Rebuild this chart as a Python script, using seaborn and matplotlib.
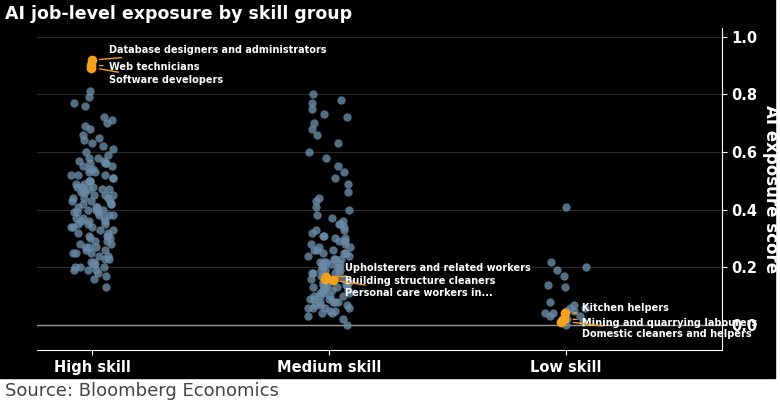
import numpy as np
import pandas as pd
import matplotlib
matplotlib.use("Agg")
import matplotlib.pyplot as plt
import seaborn as sns

groups = ["High skill", "Medium skill", "Low skill"]

high_vals = [0.81, 0.79, 0.77, 0.76, 0.72, 0.71, 0.70, 0.69, 0.68, 0.66, 0.65, 0.64, 0.63, 0.62,
             0.61, 0.60, 0.59, 0.58, 0.58, 0.57, 0.57, 0.56, 0.56, 0.55, 0.55, 0.54, 0.54, 0.53,
             0.53, 0.52, 0.52, 0.51, 0.51, 0.50, 0.50, 0.50, 0.49, 0.49, 0.48, 0.48, 0.47, 0.47,
             0.47, 0.46, 0.46, 0.45, 0.45, 0.45, 0.44, 0.44, 0.43, 0.43, 0.43, 0.42, 0.42, 0.41,
             0.41, 0.41, 0.40, 0.40, 0.40, 0.39, 0.39, 0.38, 0.38, 0.38, 0.37, 0.37, 0.36, 0.36,
             0.36, 0.35, 0.35, 0.34, 0.34, 0.33, 0.33, 0.32, 0.32, 0.31, 0.31, 0.30, 0.30, 0.29,
             0.29, 0.28, 0.28, 0.27, 0.27, 0.26, 0.26, 0.25, 0.25, 0.24, 0.24, 0.23, 0.23, 0.22,
             0.22, 0.21, 0.21, 0.20, 0.20, 0.20, 0.19, 0.19, 0.19, 0.18, 0.17, 0.16, 0.13,
             0.56, 0.52, 0.48, 0.44, 0.40, 0.37, 0.34, 0.31, 0.27, 0.25, 0.46, 0.42, 0.39, 0.35]
medium_vals = [0.80, 0.78, 0.77, 0.75, 0.73, 0.72, 0.70, 0.68, 0.66, 0.63, 0.60, 0.58, 0.55,
               0.53, 0.51, 0.49, 0.46, 0.44, 0.43, 0.41, 0.40, 0.38, 0.37, 0.36, 0.35, 0.35,
               0.34, 0.33, 0.33, 0.32, 0.31, 0.31, 0.30, 0.30, 0.29, 0.29, 0.28, 0.28, 0.27,
               0.27, 0.26, 0.26, 0.25, 0.25, 0.25, 0.24, 0.24, 0.23, 0.23, 0.23, 0.22, 0.22,
               0.21, 0.21, 0.21, 0.20, 0.20, 0.20, 0.19, 0.19, 0.19, 0.18, 0.18, 0.18, 0.17,
               0.17, 0.17, 0.16, 0.16, 0.15, 0.15, 0.15, 0.14, 0.14, 0.14, 0.13, 0.13, 0.13,
               0.12, 0.12, 0.12, 0.11, 0.11, 0.11, 0.10, 0.10, 0.10, 0.09, 0.09, 0.09, 0.08,
               0.08, 0.08, 0.07, 0.07, 0.07, 0.06, 0.06, 0.06, 0.05, 0.05, 0.04, 0.04, 0.03,
               0.02, 0.00, 0.22, 0.18, 0.14, 0.10, 0.06, 0.26, 0.12, 0.08]
low_vals = [0.41, 0.22, 0.20, 0.19, 0.17, 0.14, 0.13, 0.07, 0.06, 0.06, 0.05, 0.05, 0.04,
            0.04, 0.03, 0.03, 0.02, 0.02, 0.01, 0.00, 0.08]

hl_groups = ["High skill"] * 3 + ["Medium skill"] * 3 + ["Low skill"] * 3
hl_vals = [0.92, 0.90, 0.89, 0.165, 0.16, 0.155, 0.04, 0.02, 0.01]
hl_labels = ["Database designers and administrators", "Web technicians", "Software developers",
             "Upholsterers and related workers", "Building structure cleaners",
             "Personal care workers in...",
             "Kitchen helpers", "Mining and quarrying labourers", "Domestic cleaners and helpers"]

df = pd.DataFrame({
    "group": ["High skill"] * len(high_vals) + ["Medium skill"] * len(medium_vals) + ["Low skill"] * len(low_vals),
    "score": high_vals + medium_vals + low_vals,
})
hl = pd.DataFrame({"group": hl_groups, "score": hl_vals})

BG = "black"
ORANGE = "#F5A01E"
DOT = "#6A8AA6"

fig = plt.figure(figsize=(7.8, 4.08), dpi=100, facecolor="white")
fig.patches.append(plt.Rectangle((0, 30 / 408), 775 / 780, 1 - 30 / 408,
                                 transform=fig.transFigure, color=BG, zorder=-10))
ax = fig.add_axes([37 / 780, 1 - 350 / 408, 685 / 780, 322 / 408])
ax.set_facecolor(BG)

sns.stripplot(data=df, x="group", y="score", order=groups, jitter=0.09, size=6,
              color=DOT, alpha=0.8, linewidth=0, ax=ax, zorder=3)
sns.stripplot(data=hl, x="group", y="score", order=groups, jitter=0.02, size=7,
              color=ORANGE, linewidth=0, ax=ax, zorder=4)

ax.set_ylim(-0.087, 1.03)
ax.set_xlim(-0.232, 2.66)
ax.yaxis.tick_right()
ax.yaxis.set_label_position("right")
ax.set_yticks([0.0, 0.2, 0.4, 0.6, 0.8, 1.0])
ax.set_yticklabels(["0.0", "0.2", "0.4", "0.6", "0.8", "1.0"])
ax.tick_params(colors="white", labelsize=10.5)
for t in ax.get_yticklabels() + ax.get_xticklabels():
    t.set_fontweight("bold")
ax.set_xlabel("")
ax.set_ylabel("AI exposure score", color="white", fontsize=12, fontweight="bold",
              rotation=270, labelpad=16)
for s in ["left", "top"]:
    ax.spines[s].set_visible(False)
for s in ["right", "bottom"]:
    ax.spines[s].set_color("white")
for yv in [0.2, 0.4, 0.6, 0.8, 1.0]:
    ax.axhline(yv, color="#2a2a2a", lw=0.8, zorder=1)
ax.axhline(0, color="#9a9a9a", lw=1, zorder=2)

# annotations
text_y = [0.955, 0.895, 0.848, 0.197, 0.152, 0.11, 0.06, 0.005, -0.032]
for i, (g, v, lab) in enumerate(zip(hl_groups, hl_vals, hl_labels)):
    gx = groups.index(g)
    ax.annotate(lab, xy=(gx + 0.02, v), xytext=(gx + 0.07, text_y[i]), color="white",
                fontsize=7, fontweight="bold", va="center",
                arrowprops=dict(arrowstyle="-", color=ORANGE, lw=1), zorder=5)

fig.text(5 / 780, 1 - 14 / 408, "AI job-level exposure by skill group", color="white",
         fontsize=12.5, fontweight="bold", va="center")
fig.text(5 / 780, 1 - 391 / 408, "Source: Bloomberg Economics", color="#444444",
         fontsize=13, va="center")

fig.savefig("out.png", dpi=100, facecolor=fig.get_facecolor())
